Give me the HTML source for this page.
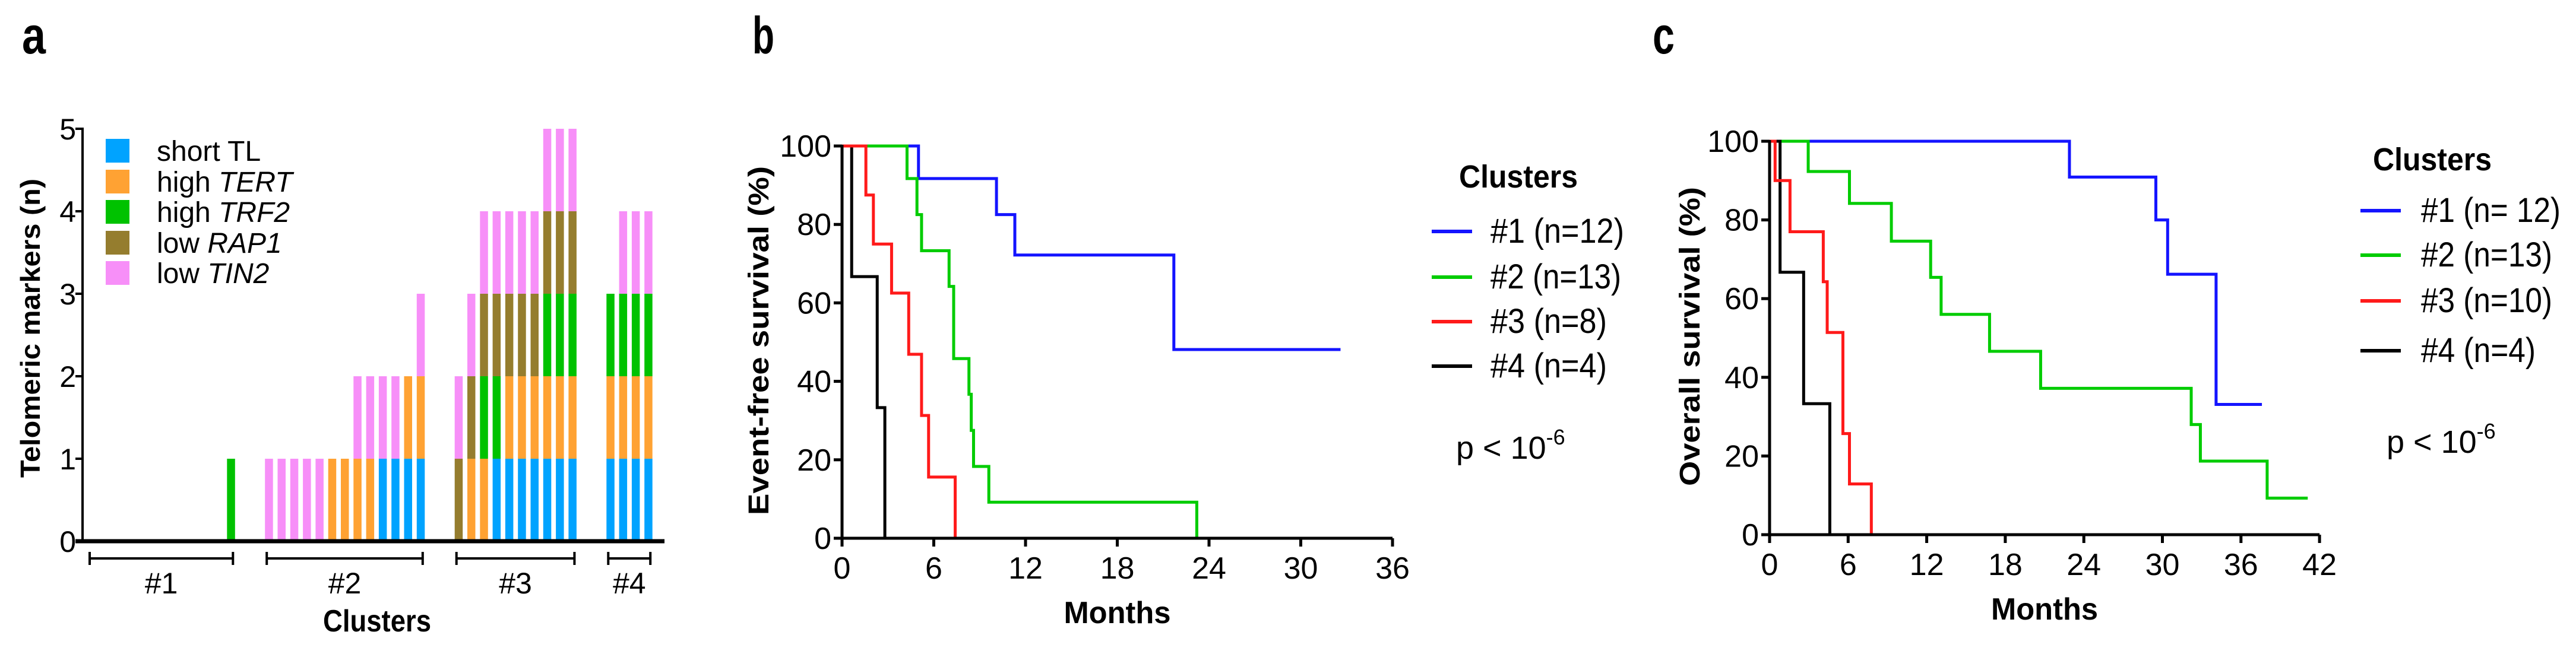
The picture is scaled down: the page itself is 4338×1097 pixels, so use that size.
<!DOCTYPE html>
<html><head><meta charset="utf-8"><style>
html,body{margin:0;padding:0;background:#fff}
svg{display:block}
text{font-family:"Liberation Sans Narrow","Liberation Sans",sans-serif;fill:#000}
.b{font-weight:bold}
</style></head><body>
<svg id="fig" width="4338" height="1097" viewBox="0 0 4338 1097" xmlns="http://www.w3.org/2000/svg">
<rect width="4338" height="1097" fill="#fff"/>
<g id="pa"></g>
<g id="pb"></g>
<g id="pc"></g>
</svg>
<script>
// ---------- Panel a data ----------
const clusterSizes = [12, 13, 10, 4];
const shortTL  = [0,0,0,0,0,0,0,0,0,0,0,0, 0,0,0,0,0,0,0,0,0,1,1,1,1, 0,0,0,1,1,1,1,1,1,1, 1,1,1,1];
const highTERT = [0,0,0,0,0,0,0,0,0,0,0,0, 0,0,0,0,0,1,1,1,1,0,0,1,1, 0,1,1,0,1,1,1,1,1,1, 1,1,1,1];
const highTRF2 = [0,0,0,0,0,0,0,0,0,0,0,1, 0,0,0,0,0,0,0,0,0,0,0,0,0, 0,0,1,1,0,0,0,1,1,1, 1,1,1,1];
const lowRAP1  = [0,0,0,0,0,0,0,0,0,0,0,0, 0,0,0,0,0,0,0,0,0,0,0,0,0, 1,1,1,1,1,1,1,1,1,1, 0,0,0,0];
const lowTIN2  = [0,0,0,0,0,0,0,0,0,0,0,0, 1,1,1,1,1,0,0,1,1,1,1,0,1, 1,1,1,1,1,1,1,1,1,1, 0,1,1,1];
const markerNames = ["short TL","high TERT","high TRF2","low RAP1","low TIN2"];
const aTicks = [0,1,2,3,4,5];
const clusterLabels = ["#1","#2","#3","#4"];

// ---------- Panel b data ----------
const bXTicks = [0,6,12,18,24,30,36];
const yTicks = [0,20,40,60,80,100];
const b1T = [0,5,10.1,11.3,21.7];            const b1S = [100,91.7,82.5,72.2,48.1]; const b1End = 32.6;
const b2T = [0,4.25,4.9,5.2,7.0,7.3,8.3,8.45,8.6,9.6,23.2]; const b2S = [100,91.7,82.5,73.3,64.2,45.8,36.7,27.5,18.3,9.2,0]; const b2End = 23.2;
const b3T = [0,1.56,2.05,3.24,4.36,5.2,5.66,7.4]; const b3S = [100,87.5,75,62.5,46.9,31.3,15.6,0]; const b3End = 7.4;
const b4T = [0,0.63,2.3,2.8];                const b4S = [100,66.7,33.3,0];          const b4End = 2.8;
const bLegend = ["#1 (n=12)","#2 (n=13)","#3 (n=8)","#4 (n=4)"];

// ---------- Panel c data ----------
const cXTicks = [0,6,12,18,24,30,36,42];
const c1T = [0,22.9,29.5,30.4,34.1];         const c1S = [100,90.9,80,66.2,33.1];   const c1End = 37.6;
const c2T = [0,2.95,6.1,9.3,12.3,13.1,16.8,20.7,32.2,32.9,38]; const c2S = [100,92.3,84.2,74.6,65.4,56,46.6,37.2,28,18.7,9.3]; const c2End = 41.1;
const c3T = [0,0.42,1.56,4.1,4.4,5.6,6.1,7.77]; const c3S = [100,90,77,64.3,51.4,25.7,12.9,0]; const c3End = 7.77;
const c4T = [0,0.8,2.6,4.6];                 const c4S = [100,66.7,33.3,0];          const c4End = 4.6;
const cLegend = ["#1 (n= 12)","#2 (n=13)","#3 (n=10)","#4 (n=4)"];

const NS = "http://www.w3.org/2000/svg";
function mk(parent, tag, attrs, txt) {
  const e = document.createElementNS(NS, tag);
  for (const k in attrs) e.setAttribute(k, attrs[k]);
  if (txt !== undefined) e.textContent = txt;
  parent.appendChild(e);
  return e;
}
const seriesColors = ["#1414ff","#00cc00","#ff1a1a","#000000"];
const barColors = ["#00a3ff","#ffa233","#00c200","#957d2e","#f78ff8"];

// ================= Panel a =================
(function(){
  const g = document.getElementById('pa');
  const x0 = 139, y0 = 912, yU = 139, xEnd = 1119;
  const ay = v => y0 - v*yU;
  const slotLeft = s => 148 + s*21.3;
  let t = mk(g,'text',{x:37,y:90,'font-size':88,'class':'b',textLength:40,lengthAdjust:'spacingAndGlyphs'},'a');
   
  // bars
  const markers = [shortTL, highTERT, highTRF2, lowRAP1, lowTIN2];
  let idx = 0;
  for (let c = 0; c < clusterSizes.length; c++) {
    for (let k = 0; k < clusterSizes[c]; k++) {
      const slot = idx + 2*c;
      let base = 0;
      for (let m = 0; m < markers.length; m++) {
        if (markers[m][idx]) {
          const r = mk(g,'rect',{x:slotLeft(slot),y:ay(base+1),width:13.5,height:yU,fill:barColors[m]});
          
          
          base += 1;
        }
      }
      idx++;
    }
  }
  // axes
  let l = mk(g,'line',{x1:x0,y1:ay(5)-2,x2:x0,y2:y0,stroke:'#000','stroke-width':4});
   
  l = mk(g,'line',{x1:x0-12,y1:y0,x2:xEnd,y2:y0,stroke:'#000','stroke-width':7});
   
  aTicks.forEach(v=>{
    const tk = mk(g,'line',{x1:x0-12,y1:ay(v),x2:x0,y2:ay(v),stroke:'#000','stroke-width':4});
     
    const tl = mk(g,'text',{x:128,y:ay(v)+18,'font-size':50,'text-anchor':'end'},String(v));
     
  });
  // brackets
  idx = 0;
  for (let c = 0; c < clusterSizes.length; c++) {
    const s0 = idx + 2*c, s1 = idx + clusterSizes[c] - 1 + 2*c;
    const xa = slotLeft(s0)+3, xb = slotLeft(s1)+10, yb = 941;
    const br = mk(g,'path',{d:`M${xa},${yb-11}V${yb+11}M${xa},${yb}H${xb}M${xb},${yb-11}V${yb+11}`,stroke:'#000','stroke-width':4,fill:'none'});
     
    const bl = mk(g,'text',{x:(xa+xb)/2,y:1000,'font-size':50,'text-anchor':'middle'},clusterLabels[c]);
     
    idx += clusterSizes[c];
  }
  t = mk(g,'text',{x:544,y:1064,'font-size':52,'class':'b',textLength:182,lengthAdjust:'spacingAndGlyphs'},'Clusters');
   
  t = mk(g,'text',{x:0,y:0,'font-size':46,'class':'b','font-family':'Liberation Sans, sans-serif',textLength:504,lengthAdjust:'spacingAndGlyphs','text-anchor':'middle',transform:'translate(67,553) rotate(-90)'},'Telomeric markers (n)');
   
  // legend
  const legY = [254,306,357,409,460];
  const legParts = [["short TL",""],["high ","TERT"],["high ","TRF2"],["low ","RAP1"],["low ","TIN2"]];
  for (let m = 0; m < 5; m++) {
    const sw = mk(g,'rect',{x:178,y:legY[m]-20,width:40,height:40,fill:barColors[m]});
     
    const lt = mk(g,'text',{x:264,y:legY[m]+17,'font-size':48});
     
    mk(lt,'tspan',{},legParts[m][0]);
    if (legParts[m][1]) mk(lt,'tspan',{'font-style':'italic'},legParts[m][1]);
  }
})();

// ================= KM panels =================
function kmPanel(gid, o) {
  const g = document.getElementById(gid);
  const sx = v => o.x0 + v*o.pxM;
  const sy = v => o.y0 - v*(o.y0-o.y100)/100;
  let t = mk(g,'text',{x:o.lx,y:90,'font-size':88,'class':'b',textLength:37,lengthAdjust:'spacingAndGlyphs'},o.label);
   
  // curves
  o.series.forEach((s,i)=>{
    let d = `M${sx(0)},${sy(s.S[0])}`;
    for (let k = 1; k < s.T.length; k++) d += `H${sx(s.T[k])}V${sy(s.S[k])}`;
    d += `H${sx(s.end)}`;
    const p = mk(g,'path',{d:d,fill:'none',stroke:seriesColors[s.c],'stroke-width':5,'stroke-linejoin':'miter'});
    
    
  });
  // axes
  let l = mk(g,'line',{x1:o.x0,y1:sy(100)-2,x2:o.x0,y2:o.y0+14,stroke:'#000','stroke-width':5});
   
  l = mk(g,'line',{x1:o.x0-14,y1:o.y0,x2:sx(o.xTicks[o.xTicks.length-1]),y2:o.y0,stroke:'#000','stroke-width':5});
   
  yTicks.forEach(v=>{
    const tk = mk(g,'line',{x1:o.x0-14,y1:sy(v),x2:o.x0,y2:sy(v),stroke:'#000','stroke-width':5});
     
    const tl = mk(g,'text',{x:o.x0-18,y:sy(v)+18,'font-size':52,'text-anchor':'end'},String(v));
     
  });
  o.xTicks.forEach(v=>{
    const tk = mk(g,'line',{x1:sx(v),y1:o.y0,x2:sx(v),y2:o.y0+14,stroke:'#000','stroke-width':5});
     
    const tl = mk(g,'text',{x:sx(v),y:o.y0+68,'font-size':52,'text-anchor':'middle'},String(v));
     
  });
  const xm = (sx(0)+sx(o.xTicks[o.xTicks.length-1]))/2;
  t = mk(g,'text',{x:xm,y:o.y0+143,'font-size':52,'class':'b','text-anchor':'middle',textLength:180,lengthAdjust:'spacingAndGlyphs'},'Months');
   
  t = mk(g,'text',{x:0,y:0,'font-size':48,'class':'b','font-family':'Liberation Sans, sans-serif',textLength:o.ylen,lengthAdjust:'spacingAndGlyphs','text-anchor':'middle',transform:`translate(${o.ytx},${o.yty}) rotate(-90)`},o.ytitle);
   
  // legend
  t = mk(g,'text',{x:o.legX,y:o.legTitleY,'font-size':54,'class':'b',textLength:200,lengthAdjust:'spacingAndGlyphs'},'Clusters');
   
  o.legend.forEach((s,i)=>{
    const y = o.legY[i];
    const ll = mk(g,'line',{x1:o.legLineX,y1:y,x2:o.legLineX+68,y2:y,stroke:seriesColors[i],'stroke-width':6});
     
    const lt = mk(g,'text',{x:o.legTextX,y:y+19,'font-size':58,textLength:o.legW[i],lengthAdjust:'spacingAndGlyphs'},s);
     
  });
  const pt = mk(g,'text',{x:o.pX,y:o.pY,'font-size':54});
   
  mk(pt,'tspan',{},'p < 10');
  mk(pt,'tspan',{'font-size':36,dy:-24},'-6');
}

kmPanel('pb',{label:'b',lx:1267,x0:1418,y0:907,y100:246,pxM:25.75,xTicks:bXTicks,
  series:[{T:b1T,S:b1S,end:b1End,c:0},{T:b2T,S:b2S,end:b2End,c:1},{T:b4T,S:b4S,end:b4End,c:3},{T:b3T,S:b3S,end:b3End,c:2}],
  ytitle:'Event-free survival (%)',ylen:588,ytx:1294,yty:574,
  legX:2457,legTitleY:316,legY:[390,467,542,617],legLineX:2411,legTextX:2510,legW:[225,220,196,196],
  legend:bLegend,pX:2452,pY:773});
kmPanel('pc',{label:'c',lx:2783,x0:2980,y0:901,y100:238,pxM:22.05,xTicks:cXTicks,
  series:[{T:c1T,S:c1S,end:c1End,c:0},{T:c2T,S:c2S,end:c2End,c:1},{T:c4T,S:c4S,end:c4End,c:3},{T:c3T,S:c3S,end:c3End,c:2}],
  ytitle:'Overall survival (%)',ylen:504,ytx:2862,yty:567,
  legX:3996,legTitleY:287,legY:[355,430,507,591],legLineX:3975,legTextX:4077,legW:[235,221,221,193],
  legend:cLegend,pX:4019,pY:763});
</script>
</body></html>
